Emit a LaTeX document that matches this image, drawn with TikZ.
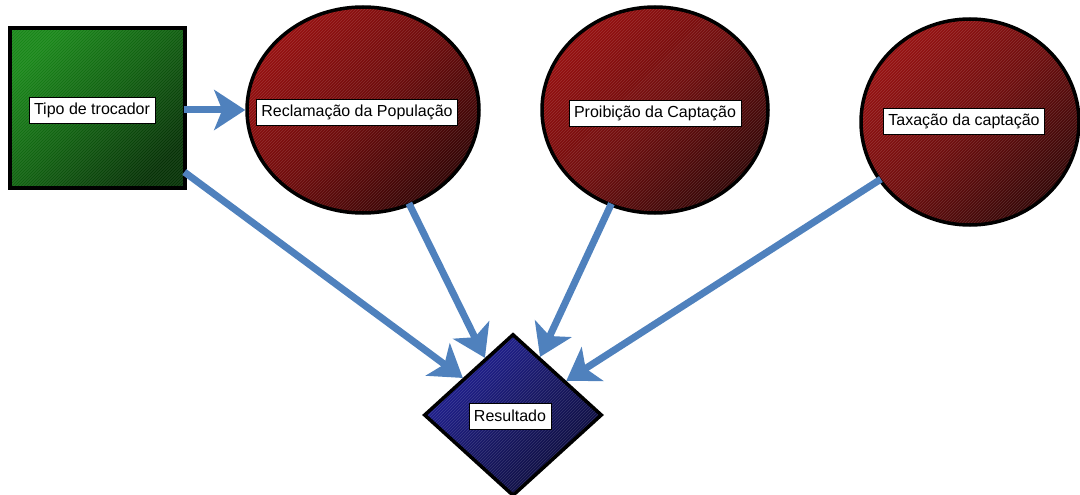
\documentclass[tikz,border=0pt]{standalone}
\usepackage{fontspec}
\setmainfont{Liberation Sans}
\usetikzlibrary{shapes.geometric,arrows.meta}
\definecolor{linkblue}{RGB}{79,129,189}
\definecolor{greenhi}{RGB}{25,135,25}
\definecolor{greenmid}{RGB}{16,95,16}
\definecolor{greenlo}{RGB}{6,50,6}
\definecolor{redhi}{RGB}{150,16,16}
\definecolor{redmid}{RGB}{110,12,12}
\definecolor{redlo}{RGB}{50,5,5}
\definecolor{bluehi}{RGB}{30,30,150}
\definecolor{bluemid}{RGB}{22,22,100}
\definecolor{bluelo}{RGB}{10,10,55}
\tikzset{
  % fine diagonal stripes laid over the shaded fill
  stripes/.style={path picture={
      \foreach \s in {-330,-327,...,330}
        \draw[shift={(path picture bounding box.center)}, white, opacity=0.14, line width=0.7pt]
          (\s-160,160) -- (\s+160,-160);
    }},
  factorbox/.style={draw=black, line width=3.5pt, stripes},
  greenbox/.style={factorbox, rectangle, shading=axis, top color=greenhi, bottom color=greenlo, middle color=greenmid, shading angle=45},
  redoval/.style={factorbox, ellipse, shading=axis, top color=redhi, bottom color=redlo, middle color=redmid, shading angle=45},
  bluediamond/.style={factorbox, diamond, shading=axis, top color=bluehi, bottom color=bluelo, middle color=bluemid, shading angle=45},
  tag/.style={draw=black, line width=0.8pt, fill=white, font=\fontsize{16}{17}\selectfont, inner xsep=5pt, inner ysep=0pt, minimum height=26pt},
  link/.style={draw=linkblue, line width=7pt, -{Stealth[length=31pt, width=40pt, inset=8pt]}, shorten <=-3pt}
}
\begin{document}
\begin{tikzpicture}[x=1pt, y=-1pt]
  \useasboundingbox (0,0) rectangle (1080,495);

  % factor shapes
  \node[greenbox, minimum width=175pt, minimum height=160pt] (tipo) at (97.5,108) {};
  \node[redoval, minimum width=232pt, minimum height=206pt] (recl) at (363,110) {};
  \node[redoval, minimum width=226pt, minimum height=206pt] (proib) at (655,110) {};
  \node[redoval, minimum width=218pt, minimum height=206pt] (tax) at (970,122) {};
  \node[bluediamond, minimum width=178pt, minimum height=162pt] (res) at (513,415) {};

  % labels
  \node[tag] (ltipo) at (92,110) {Tipo de trocador};
  \node[tag] (lrecl) at (357,112) {Reclamação da População};
  \node[tag] (lproib) at (655,113) {Proibição da Captação};
  \node[tag] (ltax) at (964,121) {Taxação da captação};
  \node[tag] (lres) at (510,416) {Resultado};

  % influence links
  \draw[link] (tipo.east |- recl.west) -- (recl.west);
  \draw[link] (tipo) -- (res);
  \draw[link] (recl) -- (res);
  \draw[link] (proib) -- (res);
  \draw[link] (tax) -- (res);
\end{tikzpicture}
\end{document}
